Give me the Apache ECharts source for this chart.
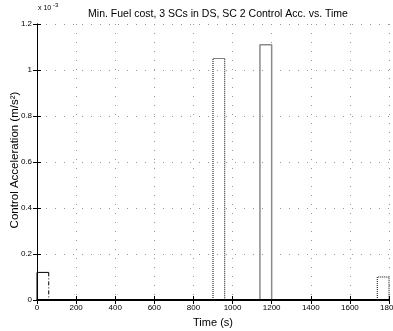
<!DOCTYPE html>
<html>
<head>
<meta charset="utf-8">
<script src="https://cdn.jsdelivr.net/npm/echarts@6/dist/echarts.min.js"></script>
<style>
  html, body { margin: 0; padding: 0; background: #fff; }
  #chart { width: 393px; height: 331px; }
</style>
</head>
<body>
<div id="chart"></div>
<script>
// burns: start / end time (s) and control acceleration (x 1e-3 m/s^2)
var burnStart = [0, 900, 1140, 1740];
var burnEnd = [60, 960, 1200, 1800];
var burnAccel = [0.12, 1.05, 1.11, 0.1];
var xTicks = [0, 200, 400, 600, 800, 1000, 1200, 1400, 1600, 1800];
var yTicks = [0, 0.2, 0.4, 0.6, 0.8, 1, 1.2];

var burnColor = ["#000", "#000", "#8a8a8a", "#000"];
var burnType = ["solid", "dotted", "solid", "dotted"];

var font = "Liberation Sans, Arial, sans-serif";
var chart = echarts.init(document.getElementById("chart"));

var series = [];
burnStart.forEach(function (s, i) {
  var e = burnEnd[i], a = burnAccel[i];
  series.push({
    type: "line",
    data: [[s, 0], [s, a], [e, a], [e, 0]],
    symbol: "none",
    silent: true,
    lineStyle: { color: burnColor[i], width: i === 2 ? 1.5 : 1, type: burnType[i] },
  });
});
// first burn: right edge drawn dash-dot
series[0].data = [[0, 0], [0, burnAccel[0]], [burnEnd[0], burnAccel[0]]];
series[0].lineStyle.type = "solid";
series.push({
  type: "line",
  data: [[burnEnd[0], burnAccel[0]], [burnEnd[0], 0]],
  symbol: "none",
  silent: true,
  lineStyle: { color: "#000", width: 1, type: [4, 2, 1, 2] },
});
// zero-level trace
series.push({
  type: "line",
  data: [[0, 0], [1800, 0]],
  symbol: "none",
  silent: true,
  lineStyle: { color: "#000", width: 2 },
});

var gridLine = { show: true, lineStyle: { color: "#999", width: 1, type: [1, 8] } };
var tickStyle = { show: true, inside: true, length: 4, lineStyle: { color: "#000" } };

chart.setOption({
  animation: false,
  title: {
    text: "Min. Fuel cost, 3 SCs in DS, SC 2 Control Acc. vs. Time",
    left: 213,
    textAlign: "center",
    top: 4,
    textStyle: { fontFamily: font, fontSize: 10.5, fontWeight: "normal", color: "#000" },
  },
  graphic: [
    {
      type: "text",
      left: 38,
      top: 5,
      style: { text: "x 10", fontFamily: font, fontSize: 7, fill: "#000" },
    },
    {
      type: "text",
      left: 53,
      top: 2,
      style: { text: "-3", fontFamily: font, fontSize: 6, fill: "#000" },
    },
    {
      type: "text",
      x: 15,
      y: 160,
      rotation: Math.PI / 2,
      style: {
        text: "Control Acceleration (m/s\u00b2)",
        fontFamily: font,
        fontSize: 11.5,
        fill: "#000",
        align: "center",
        verticalAlign: "middle",
      },
    },
  ],
  grid: { left: 37, right: 4, top: 24, bottom: 31, outerBoundsMode: "none", containLabel: false },
  xAxis: [
    {
      type: "value",
      min: 0,
      max: 1800,
      interval: 200,
      name: "Time (s)",
      nameLocation: "middle",
      nameGap: 17,
      nameTextStyle: { fontFamily: font, fontSize: 11, color: "#000" },
      axisLine: { show: true, lineStyle: { color: "#000", width: 1 } },
      axisTick: tickStyle,
      axisLabel: {
        fontFamily: font,
        fontSize: 8,
        color: "#000",
        margin: 4,
        hideOverlap: false,
        formatter: function (v) { return xTicks.indexOf(v) >= 0 ? String(v) : ""; },
      },
      splitLine: gridLine,
    },
    {
      type: "value",
      position: "top",
      min: 0,
      max: 1800,
      interval: 200,
      axisLine: { show: true, lineStyle: { color: "#000", width: 1.5 } },
      axisTick: tickStyle,
      axisLabel: { show: false },
      splitLine: { show: false },
    },
  ],
  yAxis: [
    {
      type: "value",
      min: 0,
      max: 1.2,
      interval: 0.2,
      axisLine: { show: true, lineStyle: { color: "#000", width: 1 } },
      axisTick: tickStyle,
      axisLabel: {
        fontFamily: font,
        fontSize: 8,
        color: "#000",
        margin: 5,
        formatter: function (v) {
          var t = Math.round(v * 10) / 10;
          return yTicks.indexOf(t) >= 0 ? String(t) : "";
        },
      },
      splitLine: gridLine,
    },
    {
      type: "value",
      position: "right",
      min: 0,
      max: 1.2,
      interval: 0.2,
      axisLine: { show: true, lineStyle: { color: "#000", width: 1 } },
      axisTick: tickStyle,
      axisLabel: { show: false },
      splitLine: { show: false },
    },
  ],
  series: series,
});
</script>
</body>
</html>
